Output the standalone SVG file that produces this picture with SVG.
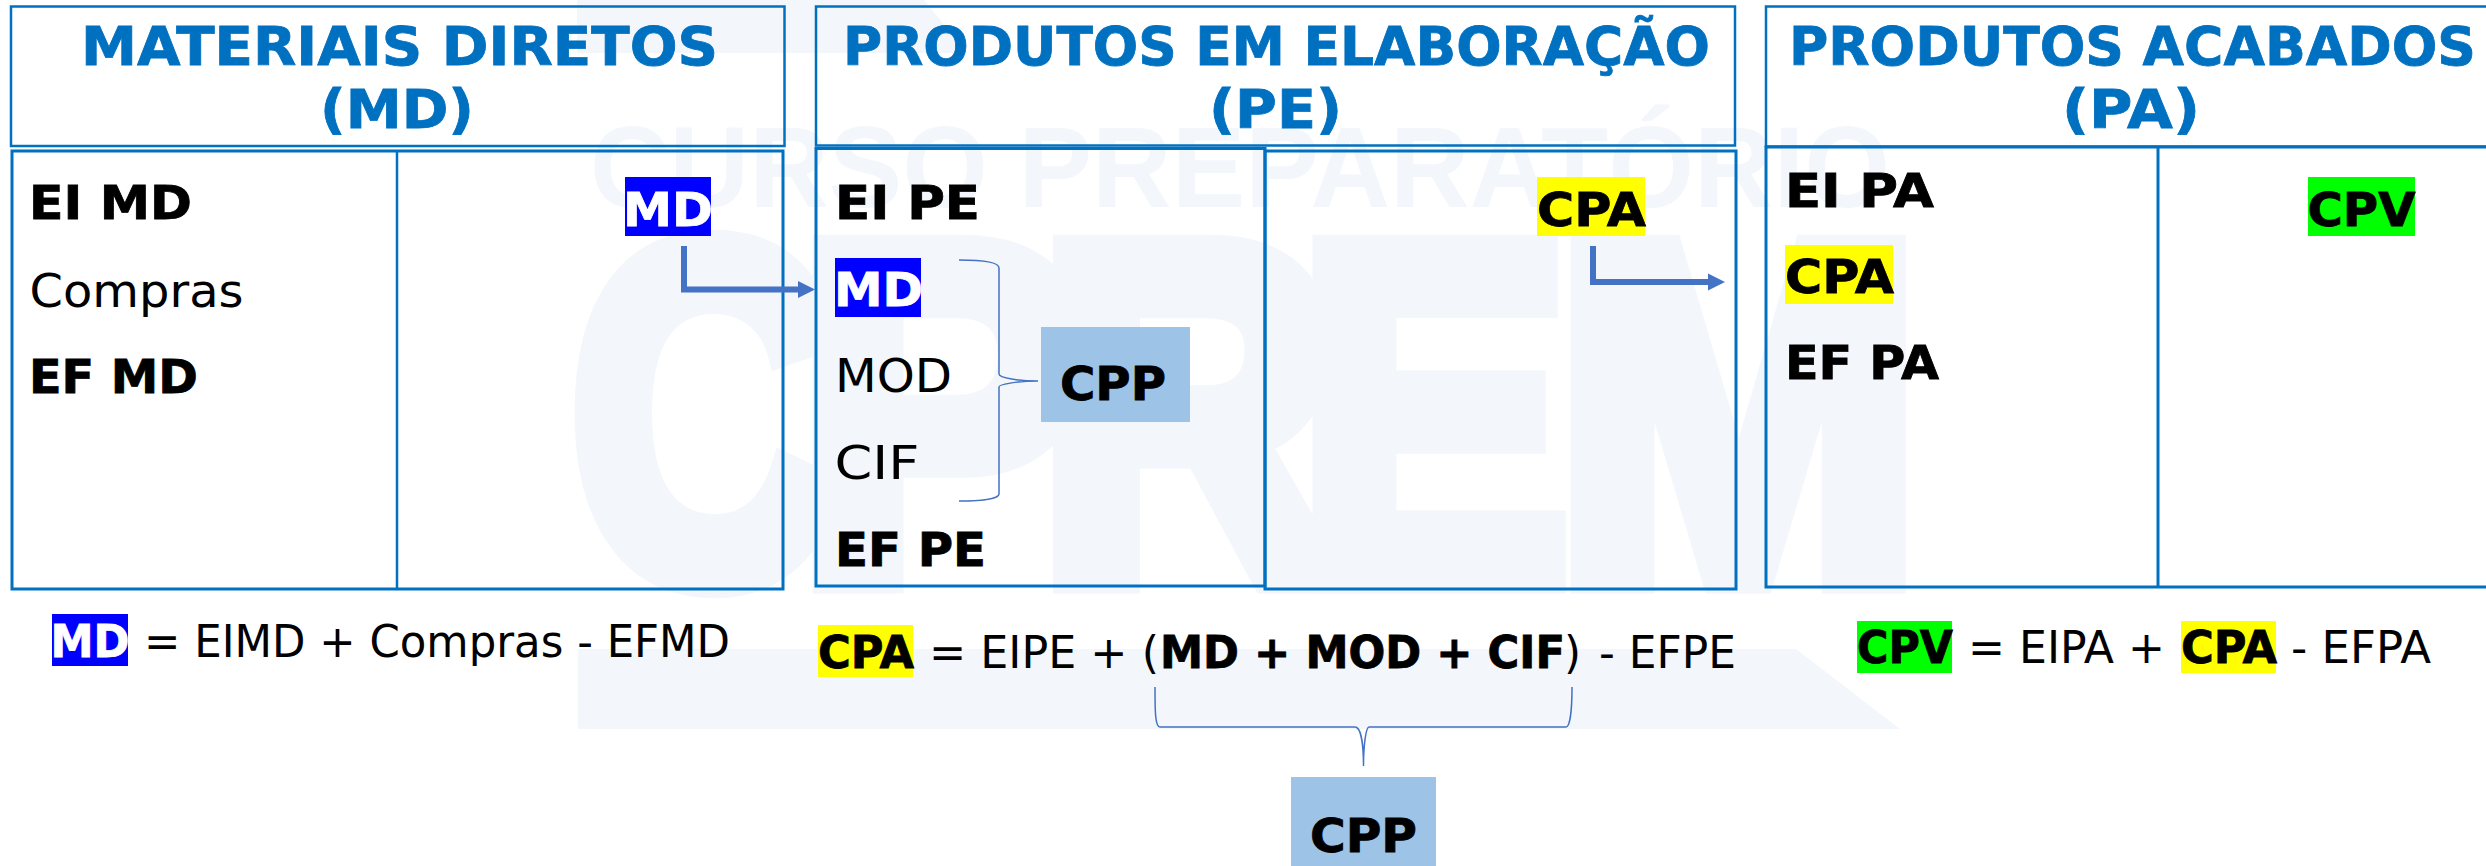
<svg xmlns="http://www.w3.org/2000/svg" width="2486" height="866" viewBox="0 0 2486 866">
<defs>
<marker id="ah" markerUnits="userSpaceOnUse" markerWidth="18" markerHeight="18" refX="0" refY="9" orient="auto"><path d="M0 0.500L17 9L0 17.500Z" fill="#4472C4"/></marker>
</defs>
<style>
text{font-family:"DejaVu Sans",Verdana,sans-serif;fill:#000}
.wm{font-family:"Liberation Sans",Arial,sans-serif;font-weight:700;fill:#F3F6FB}
.big{font-size:478px;stroke:#F3F6FB;stroke-width:30;stroke-linejoin:miter}
.h{font-size:54px;font-weight:700;fill:#0070C0;stroke:#0070C0;stroke-width:.8}
.b{font-size:47px;font-weight:700;stroke:#000;stroke-width:.8}
.r{font-size:47px}
.f{font-size:44px}
.fb{font-size:44px;font-weight:700;stroke:#000;stroke-width:.8}
.w{fill:#fff;stroke:#fff}
.box{fill:none;stroke:#0070C0;stroke-width:3}
.hd{fill:none;stroke:#0070C0;stroke-width:2.5}
.lnk{fill:none;stroke:#4472C4;stroke-width:6}
.br{fill:none;stroke:#4472C4;stroke-width:1.5}
</style>
<rect width="2486" height="866" fill="#fff"/>
<g id="watermark">
<path d="M577 0H924L968 53H577Z" fill="#F3F6FB"/>
<path d="M578 649H1796L1900 729H578Z" fill="#F3F6FB"/>
<text class="wm" x="590" y="207" font-size="115" textLength="1300" lengthAdjust="spacingAndGlyphs">CURSO PREPARATÓRIO</text>
<text class="wm big" transform="translate(571 578.600) scale(.78 1)">C</text>
<text class="wm big" transform="translate(797 578.600) scale(.92 1)">P</text>
<text class="wm big" transform="translate(1038 578.600) scale(.88 1)">R</text>
<text class="wm big" transform="translate(1298 578.600) scale(.85 1)">E</text>
<text class="wm big" transform="translate(1555 578.600) scale(.92 1)">M</text>
</g>
<g id="md-header"><rect class="hd" x="11" y="6.5" width="773.5" height="139.500"/>
<text class="h" x="81" y="65" textLength="637" lengthAdjust="spacingAndGlyphs">MATERIAIS DIRETOS</text><text class="h" x="320" y="128" textLength="154" lengthAdjust="spacingAndGlyphs">(MD)</text></g>
<g id="pe-header"><rect class="hd" x="816" y="6.5" width="919" height="139"/>
<text class="h" x="843" y="65" textLength="867" lengthAdjust="spacingAndGlyphs">PRODUTOS EM ELABORAÇÃO</text><text class="h" x="1209" y="128" textLength="133" lengthAdjust="spacingAndGlyphs">(PE)</text></g>
<g id="pa-header"><rect class="hd" x="1766" y="6.500" width="740" height="140"/>
<text class="h" x="1789" y="65" textLength="687" lengthAdjust="spacingAndGlyphs">PRODUTOS ACABADOS</text><text class="h" x="2062" y="128" textLength="138" lengthAdjust="spacingAndGlyphs">(PA)</text></g>
<g id="md-table"><rect class="box" x="12" y="151" width="771" height="438"/><path d="M397 150V589" stroke="#0070C0" stroke-width="2.500" fill="none"/>
<text class="b" x="29" y="219" textLength="163" lengthAdjust="spacingAndGlyphs">EI MD</text><text class="r" x="29.500" y="307" textLength="214" lengthAdjust="spacingAndGlyphs">Compras</text><text class="b" x="29" y="393" textLength="169" lengthAdjust="spacingAndGlyphs">EF MD</text>
<rect x="625" y="177" width="86" height="59" fill="#0000FF"/><text class="b w" x="623" y="226" textLength="90" lengthAdjust="spacingAndGlyphs">MD</text></g>
<g id="pe-table"><rect class="box" x="816" y="148.500" width="449" height="437.500"/><rect class="box" x="1265" y="151" width="471" height="438"/>
<text class="b" x="835" y="219" textLength="145" lengthAdjust="spacingAndGlyphs">EI PE</text>
<rect x="835" y="258" width="86" height="59" fill="#0000FF"/><text class="b w" x="834" y="306" textLength="89" lengthAdjust="spacingAndGlyphs">MD</text>
<text class="r" x="835" y="392" textLength="117" lengthAdjust="spacingAndGlyphs">MOD</text><text class="r" x="834.500" y="479" textLength="85" lengthAdjust="spacingAndGlyphs">CIF</text><text class="b" x="835" y="566" textLength="151" lengthAdjust="spacingAndGlyphs">EF PE</text>
<rect x="1537" y="177" width="108" height="59" fill="#FFFF00"/><text class="b" x="1537" y="226" textLength="109" lengthAdjust="spacingAndGlyphs">CPA</text></g>
<g id="pe-cpp"><rect x="1041" y="327" width="149" height="95" fill="#9DC3E6"/><text class="b" x="1060" y="400" textLength="106" lengthAdjust="spacingAndGlyphs">CPP</text></g>
<g id="pa-table"><rect class="box" x="1766" y="147" width="740" height="440"/><path d="M2158 147V587" stroke="#0070C0" stroke-width="3" fill="none"/>
<text class="b" x="1785" y="207" textLength="149" lengthAdjust="spacingAndGlyphs">EI PA</text>
<rect x="1785" y="245" width="108" height="59" fill="#FFFF00"/><text class="b" x="1785" y="293" textLength="109" lengthAdjust="spacingAndGlyphs">CPA</text>
<text class="b" x="1785" y="379" textLength="154" lengthAdjust="spacingAndGlyphs">EF PA</text>
<rect x="2308" y="177" width="107" height="59" fill="#00FF00"/><text class="b" x="2307.500" y="226" textLength="108" lengthAdjust="spacingAndGlyphs">CPV</text></g>
<g id="formula-md"><rect x="52" y="614" width="76" height="52" fill="#0000FF"/><text class="fb w" x="50.500" y="657" textLength="79" lengthAdjust="spacingAndGlyphs">MD</text>
<text class="f" x="144" y="657" textLength="586" lengthAdjust="spacingAndGlyphs">= EIMD + Compras - EFMD</text></g>
<g id="formula-cpa"><rect x="818" y="625" width="95" height="52" fill="#FFFF00"/><text class="fb" x="818" y="668" textLength="96" lengthAdjust="spacingAndGlyphs">CPA</text>
<text class="f" x="929" y="668" textLength="230" lengthAdjust="spacingAndGlyphs">= EIPE + (</text>
<text class="fb" x="1160" y="668" textLength="405" lengthAdjust="spacingAndGlyphs">MD + MOD + CIF</text>
<text class="f" x="1564" y="668" textLength="17" lengthAdjust="spacingAndGlyphs">)</text>
<text class="f" x="1599" y="668" textLength="137" lengthAdjust="spacingAndGlyphs">- EFPE</text></g>
<g id="formula-cpv"><rect x="1857" y="621" width="95" height="52" fill="#00FF00"/><text class="fb" x="1857" y="663" textLength="96" lengthAdjust="spacingAndGlyphs">CPV</text>
<text class="f" x="1968" y="663" textLength="197" lengthAdjust="spacingAndGlyphs">= EIPA +</text>
<rect x="2181" y="621" width="95" height="52" fill="#FFFF00"/><text class="fb" x="2181" y="663" textLength="96" lengthAdjust="spacingAndGlyphs">CPA</text>
<text class="f" x="2291" y="663" textLength="140" lengthAdjust="spacingAndGlyphs">- EFPA</text></g>
<g id="cpp-bottom"><rect x="1291" y="777" width="145" height="89" fill="#9DC3E6"/><text class="b" x="1310" y="852" textLength="107" lengthAdjust="spacingAndGlyphs">CPP</text></g>
<g id="connectors">
<path class="lnk" marker-end="url(#ah)" d="M684 246V289.500H798"/>
<path class="lnk" marker-end="url(#ah)" d="M1593 246V282H1708"/>
<path class="br" d="M959 260C980 260 999 262 999 268V374C999 378 1020 381 1038 381C1020 381 999 384 999 387V494C999 499 980 501 959 501"/>
<path class="br" d="M1155 687C1155 710 1155 727 1160 727H1355C1361 727 1363.500 745 1363.500 766C1363.500 745 1366 727 1369 727H1566C1570 727 1572 710 1572 687"/>
</g>
</svg>
